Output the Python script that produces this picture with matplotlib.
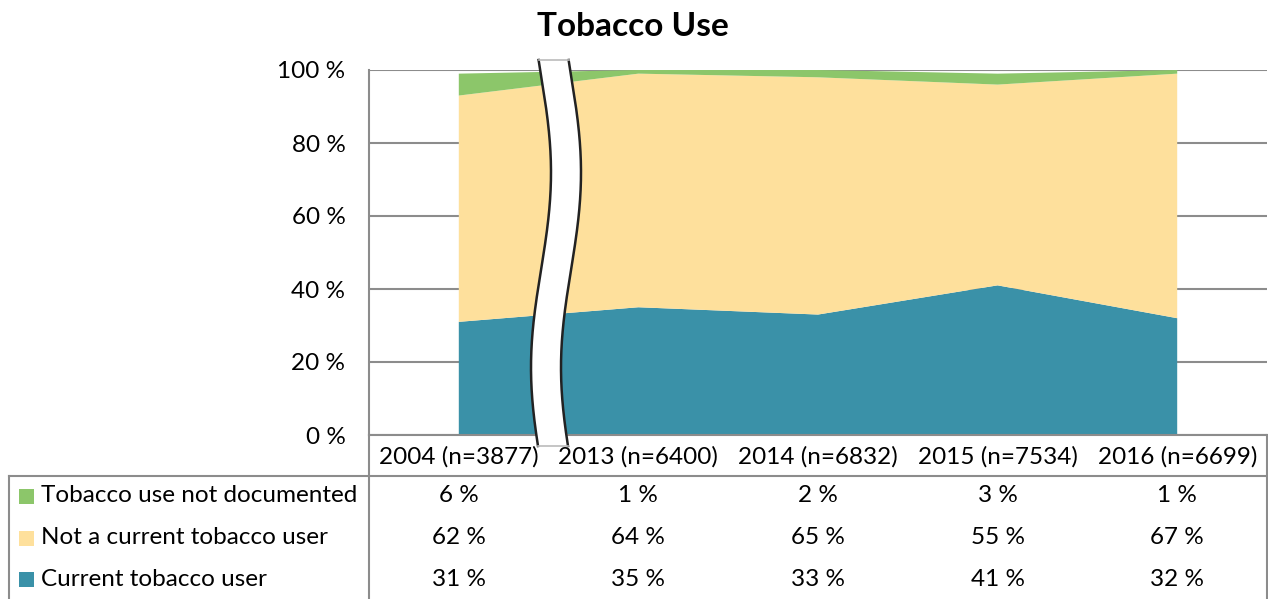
import numpy as np
import matplotlib.pyplot as plt
from matplotlib.lines import Line2D
from matplotlib.patches import Polygon, Rectangle

plt.rcParams['font.family'] = ['Lato', 'DejaVu Sans']

categories = ['2004 (n=3877)', '2013 (n=6400)', '2014 (n=6832)', '2015 (n=7534)', '2016 (n=6699)']
current = [31, 35, 33, 41, 32]
not_current = [62, 64, 65, 55, 67]
not_documented = [6, 1, 2, 3, 1]

series = [('Tobacco use not documented', not_documented, '#8CC66A'),
          ('Not a current tobacco user', not_current, '#FEE09C'),
          ('Current tobacco user', current, '#3A91A8')]

W, H = 1268, 599
fs = 17.5
fig = plt.figure(figsize=(W / 100, H / 100), dpi=100)

# plot area (pixel coords from the top-left)
x0, x1, ytop, ybot = 369, 1267, 70, 435
ax = fig.add_axes([x0 / W, 1 - ybot / H, (x1 - x0) / W, (ybot - ytop) / H])

x = np.arange(len(categories))
ax.stackplot(x, current, not_current, not_documented,
             colors=['#3A91A8', '#FEE09C', '#8CC66A'], lw=0)
ax.set_xlim(-0.5, len(categories) - 0.5)
ax.set_ylim(0, 100)
ax.set_yticks(range(0, 101, 20))
ax.set_yticklabels([f'{v} %' for v in range(0, 101, 20)], fontsize=fs)
ax.tick_params(axis='y', length=0, pad=17)
ax.set_xticks([])
ax.grid(axis='y', color='#8C8C8C', lw=1.5)
ax.set_axisbelow(True)
for s in ['top', 'right']:
    ax.spines[s].set_visible(False)
for s in ['left', 'bottom']:
    ax.spines[s].set_color('#8C8C8C')
    ax.spines[s].set_linewidth(1.5)

fig.text(633 / W, 1 - 26 / H, 'Tobacco Use', ha='center', va='center',
         fontsize=24, fontweight='bold')

# axis break marker, drawn in figure pixels
ys = np.linspace(60, 446, 200)
xl = 541 + 10 * np.sin(2 * np.pi * (ys - 75) / 390)
xr = xl + 30
band = np.concatenate([np.column_stack([xl, H - ys]), np.column_stack([xr[::-1], H - ys[::-1]])])
fig.patches.append(Polygon(band, closed=True, transform=None, facecolor='white',
                           edgecolor='none', zorder=5))
fig.lines.append(Line2D(xl, H - ys, transform=None, color='#222222', lw=1.8, zorder=6))
fig.lines.append(Line2D(xr, H - ys, transform=None, color='#222222', lw=1.8, zorder=6))
for k in (0, -1):
    fig.lines.append(Line2D([xl[k], xr[k]], [H - ys[k], H - ys[k]],
                            transform=None, color='#BBBBBB', lw=1.2, zorder=6))

# data table below the chart
grid_c = '#8C8C8C'
def hline(y, xa, xb):
    fig.lines.append(Line2D([xa, xb], [H - y, H - y], transform=None, color=grid_c, lw=1.5))
def vline(xx, ya, yb):
    fig.lines.append(Line2D([xx, xx], [H - ya, H - yb], transform=None, color=grid_c, lw=1.5))

hline(476, 9, x1)
vline(9, 476, H)
vline(x0, 435, H)
vline(x1, 435, H)

col_w = (x1 - x0) / len(categories)
for i, c in enumerate(categories):
    fig.text((x0 + (i + 0.5) * col_w) / W, 1 - 457 / H, c, ha='center', va='center', fontsize=fs)

row_y = [496, 538, 579]
for (name, vals, col), ry in zip(series, row_y):
    fig.patches.append(Rectangle((19, H - ry - 8), 15, 15, transform=None, facecolor=col,
                                 edgecolor='none'))
    fig.text(41 / W, 1 - ry / H, name, ha='left', va='center', fontsize=fs)
    for i, v in enumerate(vals):
        fig.text((x0 + (i + 0.5) * col_w) / W, 1 - ry / H, f'{v} %', ha='center', va='center',
                 fontsize=fs)

fig.savefig('out.png', dpi=100)
